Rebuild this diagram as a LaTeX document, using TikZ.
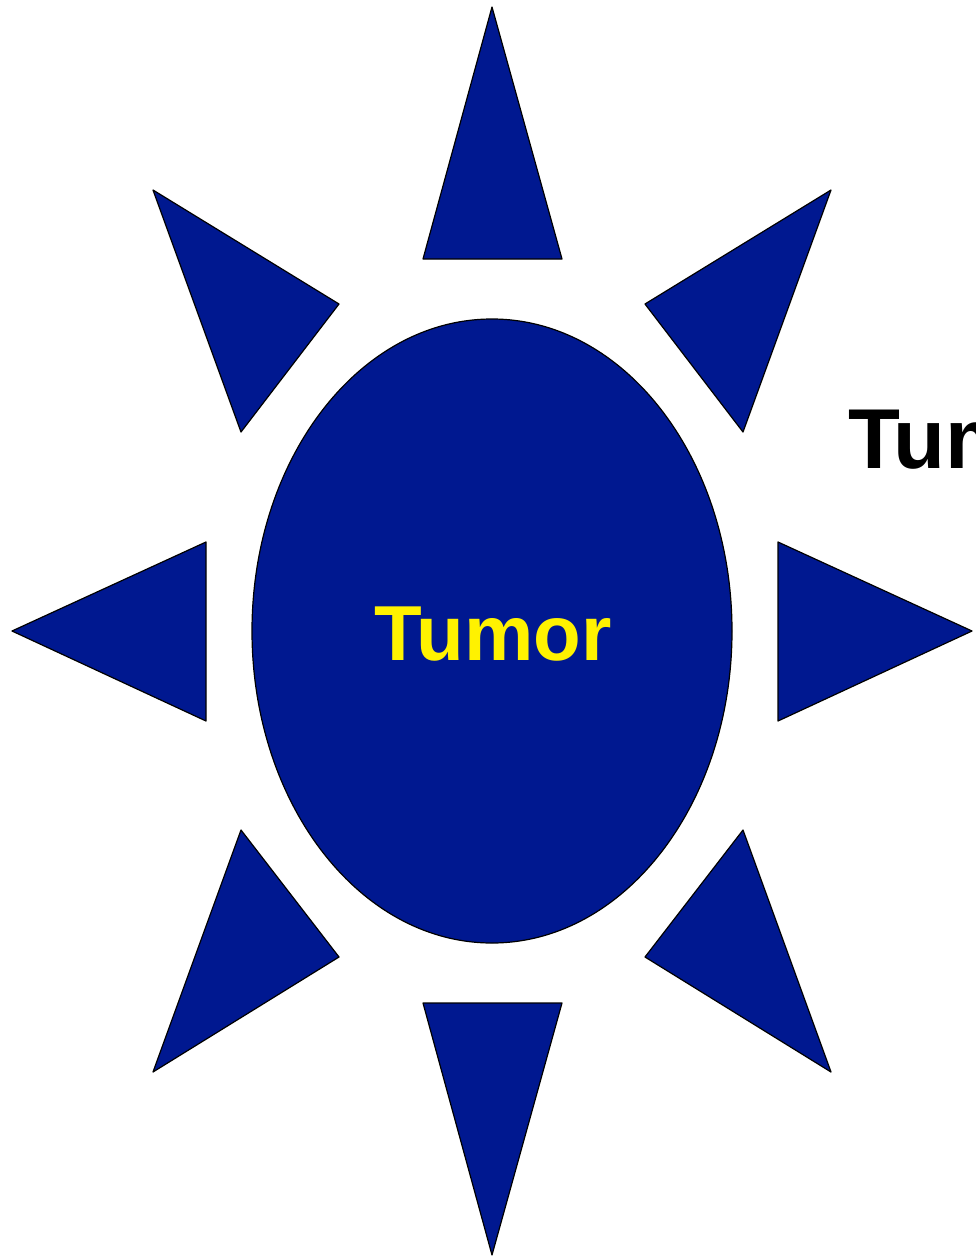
\documentclass[tikz,border=0pt]{standalone}
\usepackage{fontspec}
\setmainfont{Liberation Sans}
\definecolor{tumorblue}{RGB}{0,24,144}
\begin{document}
\begin{tikzpicture}[x=1pt,y=-1pt,
  ray/.style={draw=black,line width=1.2pt,fill=tumorblue,line join=round},
  body/.style={draw=black,line width=1.2pt,fill=tumorblue}]
\useasboundingbox (0,0) rectangle (976,1259);
\clip (0,0) rectangle (976,1259);
% body
\draw[body] (492,631) ellipse [x radius=240, y radius=312];
\node[font=\bfseries\fontsize{78}{78}\selectfont,text=yellow,anchor=base,inner sep=0] (label) at (493,660) {Tumor};
% rays
\draw[ray] (492,7) -- (423,259) -- (562,259) -- cycle;
\draw[ray] (831,190) -- (645,304) -- (743,432) -- cycle;
\draw[ray] (153,190) -- (339,304) -- (241,432) -- cycle;
\draw[ray] (12,631) -- (206,542) -- (206,721) -- cycle;
\draw[ray] (972,631) -- (778,542) -- (778,721) -- cycle;
\draw[ray] (241,830) -- (339,957) -- (153,1072) -- cycle;
\draw[ray] (423,1003) -- (562,1003) -- (492,1255) -- cycle;
\draw[ray] (743,830) -- (645,957) -- (831,1072) -- cycle;
% clipped text at right (cut off at the edge, as in the reference)
\node[font=\bfseries\fontsize{85}{85}\selectfont,text=black,anchor=base west,inner sep=0] (side) at (848,468) {Tumor};
\end{tikzpicture}
\end{document}
